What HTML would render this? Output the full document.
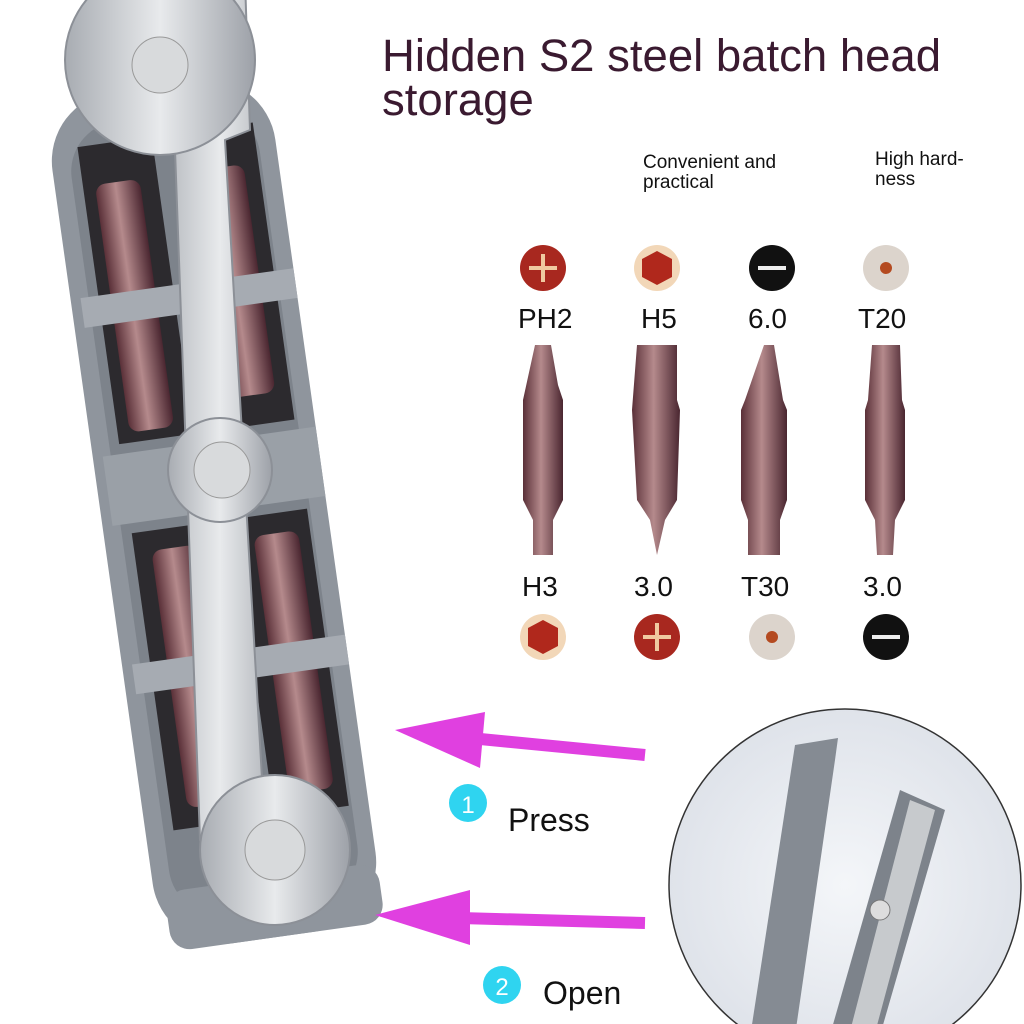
<!DOCTYPE html>
<html><head><meta charset="utf-8"><style>
html,body{margin:0;padding:0;background:#fff;}
body{width:1024px;height:1024px;position:relative;overflow:hidden;font-family:"Liberation Sans",sans-serif;}
.t{position:absolute;color:#111;white-space:nowrap;}
</style></head><body>
<svg width="1024" height="1024" style="position:absolute;left:0;top:0">
<defs>
<linearGradient id="bit" x1="0" x2="1"><stop offset="0" stop-color="#5a3038"/><stop offset=".45" stop-color="#b58a8c"/><stop offset="1" stop-color="#4a2630"/></linearGradient>
<linearGradient id="steel" x1="0" x2="1"><stop offset="0" stop-color="#a8acb2"/><stop offset=".5" stop-color="#e8eaec"/><stop offset="1" stop-color="#9da1a8"/></linearGradient>
<radialGradient id="ins" cx=".5" cy=".5" r=".5"><stop offset="0" stop-color="#f4f6f9"/><stop offset="1" stop-color="#dfe3ea"/></radialGradient>
</defs>
<g transform="rotate(-8 225 500)">
<rect x="100" y="80" width="225" height="860" rx="70" fill="#8f959d"/>
<rect x="118" y="110" width="190" height="800" rx="50" fill="#7d838b"/>
<rect x="128" y="130" width="75" height="300" fill="#2c2a2e"/>
<rect x="230" y="130" width="75" height="300" fill="#2c2a2e"/>
<rect x="128" y="520" width="75" height="300" fill="#2c2a2e"/>
<rect x="230" y="520" width="75" height="300" fill="#2c2a2e"/>
<rect x="140" y="170" width="45" height="250" rx="10" fill="url(#bit)"/>
<rect x="245" y="170" width="45" height="230" rx="10" fill="url(#bit)"/>
<rect x="145" y="540" width="45" height="260" rx="10" fill="url(#bit)"/>
<rect x="248" y="540" width="45" height="260" rx="10" fill="url(#bit)"/>
<rect x="110" y="280" width="215" height="30" fill="#a6abb2"/>
<rect x="110" y="440" width="215" height="70" fill="#9aa0a7"/>
<rect x="110" y="650" width="215" height="30" fill="#a6abb2"/>
<rect x="110" y="880" width="215" height="60" rx="20" fill="#8f959d"/>
</g>
<g fill="url(#steel)" stroke="#8c9097" stroke-width="2">
<path d="M150 -20 L245 -20 L250 130 L225 140 L265 830 L290 850 L210 870 L200 840 L175 150 L160 130 Z"/>
<circle cx="160" cy="60" r="95"/>
<circle cx="220" cy="470" r="52"/>
<circle cx="275" cy="850" r="75"/>
</g>
<circle cx="160" cy="65" r="28" fill="#d8dadc" stroke="#999"/>
<circle cx="222" cy="470" r="28" fill="#d8dadc" stroke="#999"/>
<circle cx="275" cy="850" r="30" fill="#d8dadc" stroke="#999"/>
<circle cx="543" cy="268" r="23" fill="#a8281f"/><path d="M543 254v28M529 268h28" stroke="#f0c9a0" stroke-width="4"/>
<circle cx="657" cy="268" r="23" fill="#f2d7b8"/><polygon points="657,251 672,259 672,277 657,285 642,277 642,259" fill="#b0281c"/>
<circle cx="772" cy="268" r="23" fill="#111"/><rect x="758" y="266" width="28" height="4" fill="#eee"/>
<circle cx="886" cy="268" r="23" fill="#dcd4cc"/><circle cx="886" cy="268" r="6" fill="#b44a20"/>
<g fill="url(#bit)">
<path d="M535 345 L551 345 L558 385 L563 400 L563 500 L553 520 L553 555 L533 555 L533 520 L523 500 L523 400 Z"/>
<path d="M637 345 L677 345 L677 400 L680 410 L677 500 L665 520 L657 555 L650 520 L637 500 L632 410 Z"/>
<path d="M764 345 L774 345 L783 400 L787 410 L787 500 L780 520 L780 555 L748 555 L748 520 L741 500 L741 410 L745 400 Z"/>
<path d="M872 345 L900 345 L902 400 L905 410 L905 500 L895 520 L893 555 L877 555 L875 520 L865 500 L865 410 L868 400 Z"/>
</g>
<circle cx="543" cy="637" r="23" fill="#f2d7b8"/><polygon points="543,620 558,628 558,646 543,654 528,646 528,628" fill="#b0281c"/>
<circle cx="657" cy="637" r="23" fill="#a8281f"/><path d="M657 623v28M643 637h28" stroke="#f0c9a0" stroke-width="4"/>
<circle cx="772" cy="637" r="23" fill="#dcd4cc"/><circle cx="772" cy="637" r="6" fill="#b44a20"/>
<circle cx="886" cy="637" r="23" fill="#111"/><rect x="872" y="635" width="28" height="4" fill="#eee"/>
<path d="M645 755 L470 738" stroke="#e040e0" stroke-width="12"/>
<polygon points="395,730 485,712 480,768" fill="#e040e0"/>
<path d="M645 923 L460 918" stroke="#e040e0" stroke-width="12"/>
<polygon points="375,915 470,890 470,945" fill="#e040e0"/>
<circle cx="468" cy="803" r="19" fill="#2fd4f0"/>
<text x="468" y="813" font-size="24" fill="#fff" text-anchor="middle" font-family="Liberation Sans">1</text>
<circle cx="502" cy="985" r="19" fill="#2fd4f0"/>
<text x="502" y="995" font-size="24" fill="#fff" text-anchor="middle" font-family="Liberation Sans">2</text>
<circle cx="845" cy="885" r="176" fill="url(#ins)" stroke="#333" stroke-width="1.5"/>
<clipPath id="cp"><circle cx="845" cy="885" r="175"/></clipPath>
<g clip-path="url(#cp)">
<path d="M795 745 L838 738 L835 760 L790 1070 L745 1070 Z" fill="#858b93"/>
<path d="M900 790 L945 810 L870 1070 L820 1070 Z" fill="#7d838b"/>
<path d="M910 800 L935 810 L865 1070 L840 1070 Z" fill="#c7cacd"/>
<circle cx="880" cy="910" r="10" fill="#ddd" stroke="#777"/>
</g>
</svg>
<div class="t" style="left:382px;top:34px;font-size:45.5px;line-height:44px;color:#3a1a30">Hidden S2 steel batch head<br>storage</div>
<div class="t" style="left:643px;top:153px;font-size:19px;line-height:20px">Convenient and<br>practical</div>
<div class="t" style="left:875px;top:150px;font-size:19px;line-height:20px">High hard-<br>ness</div>
<div class="t" style="left:518px;top:303px;font-size:28px">PH2</div>
<div class="t" style="left:641px;top:303px;font-size:28px">H5</div>
<div class="t" style="left:748px;top:303px;font-size:28px">6.0</div>
<div class="t" style="left:858px;top:303px;font-size:28px">T20</div>
<div class="t" style="left:522px;top:571px;font-size:28px">H3</div>
<div class="t" style="left:634px;top:571px;font-size:28px">3.0</div>
<div class="t" style="left:741px;top:571px;font-size:28px">T30</div>
<div class="t" style="left:863px;top:571px;font-size:28px">3.0</div>
<div class="t" style="left:508px;top:802px;font-size:32px">Press</div>
<div class="t" style="left:543px;top:975px;font-size:32px">Open</div>
</body></html>
